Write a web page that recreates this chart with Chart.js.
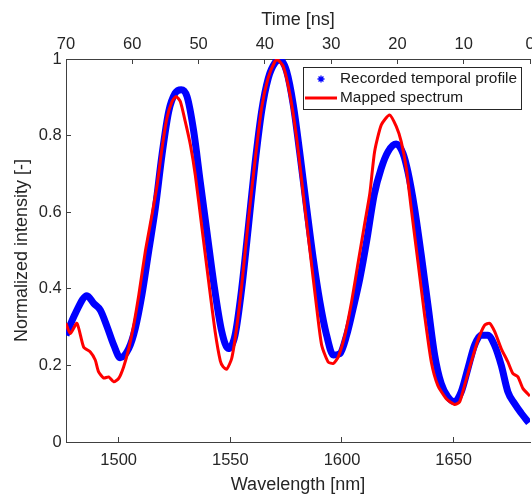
<!DOCTYPE html>
<html>
<head>
<meta charset="utf-8">
<script src="https://cdn.jsdelivr.net/npm/chart.js@4.4.1/dist/chart.umd.min.js"></script>
<style>
  html, body { margin: 0; padding: 0; background: #fff; }
  #wrap { width: 532px; height: 495px; }
</style>
</head>
<body>
<div id="wrap"><canvas id="grafico" width="532" height="495"></canvas></div>
<script>
// values
var blueWavelength = [1476.4, 1480.6, 1485.8, 1488.8, 1491.8, 1494.8, 1497.8, 1500.7, 1504.5, 1507.4,
  1510.4, 1513.4, 1516.4, 1519.4, 1522.4, 1525.3, 1528.0, 1530.6, 1533.6, 1536.5, 1539.5, 1542.5,
  1546.1, 1549.1, 1552.1, 1555.1, 1558.0, 1561.0, 1564.0, 1567.0, 1570.0, 1572.2, 1575.2, 1578.2,
  1581.2, 1584.2, 1587.1, 1590.1, 1593.1, 1596.1, 1599.1, 1602.1, 1605.0, 1608.0, 1611.0, 1614.4,
  1617.6, 1620.6, 1624.3, 1627.3, 1629.5, 1632.5, 1635.5, 1638.5, 1641.5, 1644.4, 1647.4, 1650.4,
  1653.4, 1656.4, 1659.4, 1662.3, 1665.3, 1668.3, 1671.3, 1674.3, 1677.3, 1680.3, 1683.7];
var blueIntensity = [0.279, 0.336, 0.382, 0.362, 0.344, 0.301, 0.253, 0.220, 0.244, 0.296,
  0.384, 0.497, 0.610, 0.750, 0.863, 0.911, 0.920, 0.902, 0.811, 0.680, 0.549, 0.418,
  0.290, 0.244, 0.279, 0.401, 0.558, 0.724, 0.863, 0.950, 0.990, 0.998, 0.968, 0.880,
  0.750, 0.610, 0.480, 0.366, 0.279, 0.227, 0.231, 0.279, 0.349, 0.427, 0.523, 0.645,
  0.715, 0.758, 0.778, 0.754, 0.706, 0.610, 0.488, 0.357, 0.227, 0.153, 0.118, 0.105,
  0.131, 0.192, 0.253, 0.279, 0.279, 0.253, 0.201, 0.131, 0.100, 0.075, 0.050];

var redWavelength = [1476.4, 1478.3, 1481.3, 1484.3, 1487.3, 1489.5, 1491.0, 1493.3, 1495.5, 1497.8,
  1500.0, 1502.2, 1504.5, 1506.7, 1509.0, 1511.9, 1514.9, 1517.2, 1519.4, 1521.6, 1523.9, 1525.7,
  1527.6, 1529.8, 1532.1, 1534.3, 1537.3, 1540.3, 1543.2, 1545.5, 1546.8, 1548.4, 1550.6, 1552.8,
  1555.1, 1558.0, 1561.0, 1564.0, 1566.9, 1570.0, 1571.2, 1573.7, 1576.7, 1579.7, 1582.7, 1585.7,
  1588.7, 1590.9, 1593.8, 1596.1, 1598.3, 1601.3, 1604.3, 1607.3, 1610.3, 1612.5, 1614.6, 1617.6,
  1621.3, 1624.3, 1626.5, 1628.8, 1631.0, 1634.0, 1637.0, 1640.0, 1642.9, 1646.7, 1650.4, 1652.7,
  1654.9, 1657.9, 1660.9, 1663.9, 1666.1, 1668.4, 1671.3, 1674.3, 1676.5, 1678.8, 1681.0, 1684.2];
var redIntensity = [0.310, 0.283, 0.310, 0.248, 0.235, 0.214, 0.183, 0.167, 0.170, 0.157,
  0.166, 0.196, 0.244, 0.305, 0.384, 0.497, 0.593, 0.671, 0.767, 0.846, 0.889, 0.902,
  0.889, 0.837, 0.776, 0.697, 0.558, 0.418, 0.288, 0.212, 0.196, 0.190, 0.218, 0.297,
  0.410, 0.575, 0.732, 0.872, 0.950, 0.994, 0.998, 0.981, 0.907, 0.793, 0.645, 0.497,
  0.349, 0.253, 0.209, 0.205, 0.222, 0.279, 0.366, 0.471, 0.575, 0.650, 0.758, 0.828,
  0.854, 0.824, 0.785, 0.715, 0.610, 0.471, 0.331, 0.209, 0.148, 0.113, 0.098, 0.105,
  0.148, 0.209, 0.266, 0.305, 0.310, 0.288, 0.244, 0.209, 0.179, 0.170, 0.140, 0.120];

var wavelengthTicks = [1500, 1550, 1600, 1650];
var timeTicks = [70, 60, 50, 40, 30, 20, 10, 0];
var intensityTicks = [0, 0.2, 0.4, 0.6, 0.8, 1];

var seriesNames = ['Recorded temporal profile', 'Mapped spectrum'];

function toPoints(xs, ys) {
  return xs.map(function (x, i) { return { x: x, y: ys[i] }; });
}

var FONT = '"Liberation Sans", Arial, Helvetica, sans-serif';
var AXIS_COLOR = '#404040';
var TEXT_COLOR = '#262626';

function fixedTicks(list) {
  return function (scale) {
    scale.ticks = list.map(function (v) { return { value: v }; });
  };
}
function plainLabel(v) { return String(v); }

// MATLAB-style legend inside the axes
var insideLegend = {
  id: 'insideLegend',
  afterDraw: function (chart) {
    var c = chart.ctx;
    c.save();
    c.fillStyle = '#fff';
    c.fillRect(303.5, 67.5, 218, 42);
    c.strokeStyle = TEXT_COLOR;
    c.lineWidth = 1;
    c.strokeRect(303.5, 67.5, 218, 42);

    // asterisk marker
    c.strokeStyle = '#0000ff';
    c.lineWidth = 1.3;
    var mx = 321, my = 79, r = 3.5;
    c.beginPath();
    c.moveTo(mx - r, my); c.lineTo(mx + r, my);
    c.moveTo(mx, my - r); c.lineTo(mx, my + r);
    c.moveTo(mx - r * 0.7, my - r * 0.7); c.lineTo(mx + r * 0.7, my + r * 0.7);
    c.moveTo(mx - r * 0.7, my + r * 0.7); c.lineTo(mx + r * 0.7, my - r * 0.7);
    c.stroke();

    c.strokeStyle = '#ff0000';
    c.lineWidth = 3;
    c.beginPath();
    c.moveTo(305, 98); c.lineTo(337, 98);
    c.stroke();

    c.fillStyle = '#1a1a1a';
    c.font = '15.4px ' + FONT;
    c.textBaseline = 'middle';
    c.textAlign = 'left';
    c.fillText(seriesNames[0], 340, 79);
    c.fillText(seriesNames[1], 340, 98);
    c.restore();
  }
};

var ctx = document.getElementById('grafico').getContext('2d');
var grafico = new Chart(ctx, {
  type: 'line',
  data: {
    datasets: [{
      label: seriesNames[0],
      data: toPoints(blueWavelength, blueIntensity),
      borderColor: '#0000ff',
      borderWidth: 7,
      pointRadius: 0,
      cubicInterpolationMode: 'monotone',
      order: 1
    }, {
      label: seriesNames[1],
      data: toPoints(redWavelength, redIntensity),
      borderColor: '#ff0000',
      borderWidth: 3,
      pointRadius: 0,
      tension: 0.2,
      order: 0
    }]
  },
  options: {
    responsive: false,
    animation: false,
    layout: { padding: { left: 0, right: 2, top: 0, bottom: 0 } },
    plugins: {
      legend: { display: false },
      tooltip: { enabled: false }
    },
    scales: {
      x: {
        type: 'linear',
        position: 'bottom',
        min: 1476.4,
        max: 1684.2,
        afterBuildTicks: fixedTicks(wavelengthTicks),
        afterFit: function (s) { s.height = 53; s.paddingLeft = 0; s.paddingRight = 0; },
        grid: { drawOnChartArea: false, drawTicks: true, tickLength: -5, color: AXIS_COLOR },
        border: { display: true, color: AXIS_COLOR, width: 1 },
        ticks: { autoSkip: false, maxRotation: 0, padding: 14, color: TEXT_COLOR, callback: plainLabel,
                 font: { family: FONT, size: 16.5 } },
        title: { display: true, text: 'Wavelength [nm]', color: TEXT_COLOR,
                 font: { family: FONT, size: 18, lineHeight: 1 }, padding: { top: 0, bottom: 1 } }
      },
      x2: {
        type: 'linear',
        axis: 'x',
        position: 'top',
        min: 0,
        max: 70,
        reverse: true,
        afterBuildTicks: fixedTicks(timeTicks),
        afterFit: function (s) { s.height = 59; s.paddingLeft = 0; s.paddingRight = 0; },
        grid: { drawOnChartArea: false, drawTicks: true, tickLength: -5, color: AXIS_COLOR },
        border: { display: true, color: AXIS_COLOR, width: 1 },
        ticks: { autoSkip: false, maxRotation: 0, padding: 9.8, color: TEXT_COLOR, callback: plainLabel,
                 font: { family: FONT, size: 16.5 } },
        title: { display: true, text: 'Time [ns]', color: TEXT_COLOR,
                 font: { family: FONT, size: 18, lineHeight: 1 }, padding: { top: 11.3, bottom: 0 } }
      },
      y: {
        type: 'linear',
        position: 'left',
        min: 0,
        max: 1,
        afterBuildTicks: fixedTicks(intensityTicks),
        afterFit: function (s) { s.width = 66; s.paddingTop = 0; s.paddingBottom = 0; },
        grid: { drawOnChartArea: false, drawTicks: true, tickLength: -5, color: AXIS_COLOR },
        border: { display: true, color: AXIS_COLOR, width: 1 },
        ticks: { padding: 9.3, color: TEXT_COLOR, callback: plainLabel, font: { family: FONT, size: 16.5 } },
        title: { display: true, text: 'Normalized intensity [-]', color: TEXT_COLOR,
                 font: { family: FONT, size: 18, lineHeight: 1 }, padding: { top: 13, bottom: 0 } }
      }
    }
  },
  plugins: [insideLegend]
});
</script>
</body>
</html>
